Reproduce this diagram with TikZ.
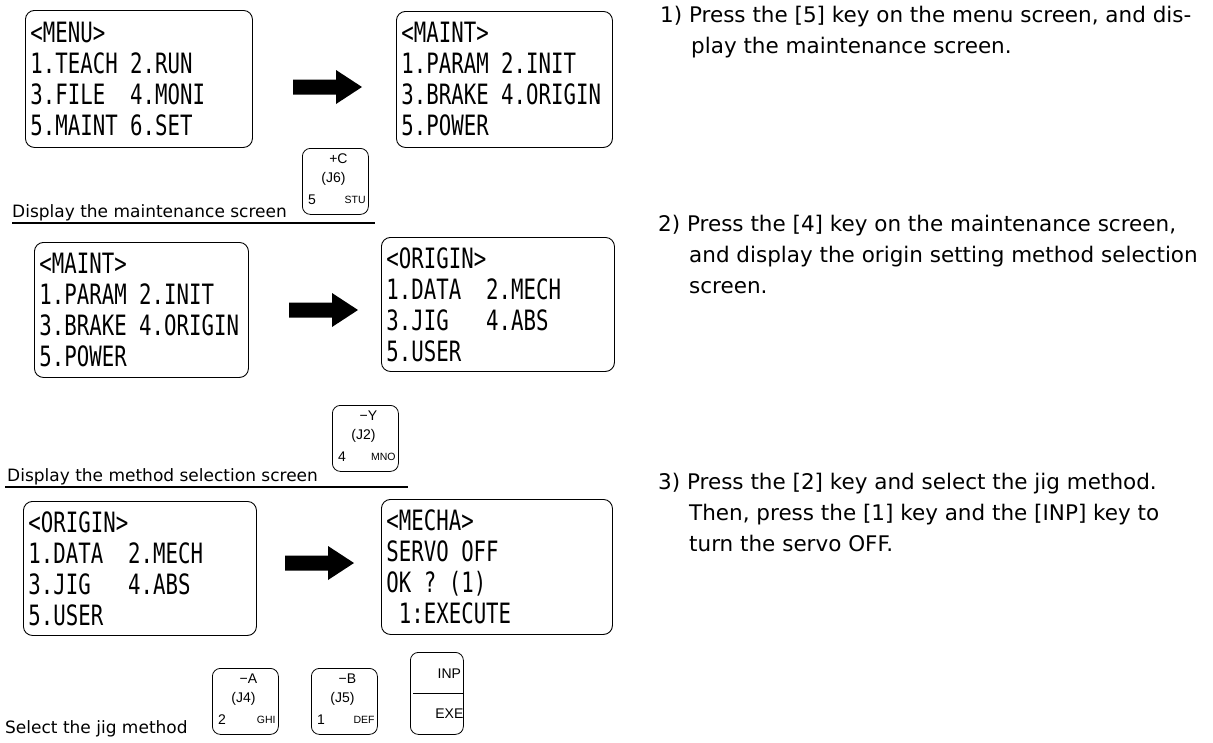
\documentclass[tikz,border=0pt]{standalone}
\usepackage{fontspec}
\setmainfont{DejaVu Sans}
\newfontfamily\lcdfont[FakeStretch=0.74]{DejaVu Sans Mono}
\newfontfamily\keyfont{Liberation Sans}
\newcommand\screenfont{\lcdfont\fontsize{28}{31}\selectfont\hyphenpenalty=10000\spaceskip=0.4455em\relax}
\usetikzlibrary{positioning}

\begin{document}
\begin{tikzpicture}[x=1pt, y=-1pt,
    screen/.style={draw, rounded corners=9pt, line width=0.9pt, anchor=north west, align=flush left, inner xsep=5pt, inner ysep=0pt, font=\screenfont},
    keycap/.style={draw, rounded corners=8pt, line width=0.8pt, anchor=north west, inner sep=0pt},
    keytext/.style={inner sep=0pt, font=\keyfont\fontsize{14}{16}\selectfont},
    caption/.style={anchor=base west, inner sep=0pt, font=\fontsize{17}{20}\selectfont},
    howto/.style={anchor=base west, align=left, inner sep=0pt, font=\fontsize{21.5}{31}\selectfont}]
    \useasboundingbox (0,0) rectangle (1213,742);

    % screens
    \node[screen, minimum width=227pt, minimum height=137pt, text width=217pt] (menu) at (25,10) {<MENU>\\1.TEACH 2.RUN\\3.FILE\ \ 4.MONI\\5.MAINT 6.SET};
    \node[screen, minimum width=216pt, minimum height=136pt, text width=206pt] (maint) at (396,11) {<MAINT>\\1.PARAM 2.INIT\\3.BRAKE 4.ORIGIN\\5.POWER};
    \node[screen, minimum width=214pt, minimum height=135pt, text width=204pt] (maint2) at (34,242) {<MAINT>\\1.PARAM 2.INIT\\3.BRAKE 4.ORIGIN\\5.POWER};
    \node[screen, minimum width=233pt, minimum height=134pt, text width=223pt] (origin) at (381,237) {<ORIGIN>\\1.DATA\ \ 2.MECH\\3.JIG\ \ \ 4.ABS\\5.USER};
    \node[screen, minimum width=233pt, minimum height=134pt, text width=223pt] (origin2) at (23,501) {<ORIGIN>\\1.DATA\ \ 2.MECH\\3.JIG\ \ \ 4.ABS\\5.USER};
    \node[screen, minimum width=231pt, minimum height=135pt, text width=221pt] (mecha) at (381,499) {<MECHA>\\SERVO OFF\\OK ? (1)\\\hspace*{0.4455em}1:EXECUTE};

    % fat arrows between the screens
    \coordinate (arr1) at (293,87);
    \coordinate (arr2) at (289,310);
    \coordinate (arr3) at (285,563);
    \foreach \a in {arr1,arr2,arr3}
        \fill (\a) ++(0,-7.5) -- ++(43,0) -- ++(0,-9.5) -- ++(26,17) -- ++(-26,17) -- ++(0,-9.5) -- ++(-43,0) -- cycle;

    % keys
    \foreach \n/\x/\y/\t/\j/\d/\l in {kC/302/148/+C/J6/5/STU, kY/332/405/−Y/J2/4/MNO, kA/212/668/−A/J4/2/GHI, kB/311/668/−B/J5/1/DEF} {
        \node[keycap, minimum width=66pt, minimum height=66pt] (\n) at (\x,\y) {};
        \node[keytext] (\n-axis) at ([xshift=3pt, yshift=-11pt]\n.north) {\t};
        \node[keytext] (\n-joint) at ([xshift=-2pt, yshift=-31pt]\n.north) {(\j)};
        \node[keytext, anchor=west] (\n-num) at ([xshift=6pt, yshift=15pt]\n.south west) {\d};
        \node[keytext, anchor=east, font=\keyfont\fontsize{10.5}{12}\selectfont] (\n-abc) at ([xshift=-3pt, yshift=15pt]\n.south east) {\l};
    }
    \node[keycap, minimum width=53pt, minimum height=82pt] (inp) at (410,652) {};
    \draw[line width=1pt, shorten <=3pt, shorten >=1pt] (inp.west) -- (inp.east);
    \node[keytext] (inp-top) at ([xshift=12.5pt, yshift=20pt]inp.center) {INP};
    \node[keytext] (inp-bot) at ([xshift=12.5pt, yshift=-20pt]inp.center) {EXE};

    % captions
    \node[caption] (cap1) at (12,217) {Display the maintenance screen};
    \draw[line width=1.8pt] (12,223) -- (375,223);
    \node[caption] (cap2) at (7,481) {Display the method selection screen};
    \draw[line width=1.8pt] (5,487) -- (408,487);
    \node[caption] (cap3) at (5,733) {Select the jig method};

    % instructions
    \node[howto] (how1) at (660,53) {1) Press the [5] key on the menu screen, and dis-\\\hspace*{31pt}play the maintenance screen.};
    \node[howto] (how2) at (658,293) {2) Press the [4] key on the maintenance screen,\\\hspace*{31pt}and display the origin setting method selection\\\hspace*{31pt}screen.};
    \node[howto] (how3) at (658,551) {3) Press the [2] key and select the jig method.\\\hspace*{31pt}Then, press the [1] key and the [INP] key to\\\hspace*{31pt}turn the servo OFF.};
\end{tikzpicture}
\end{document}
